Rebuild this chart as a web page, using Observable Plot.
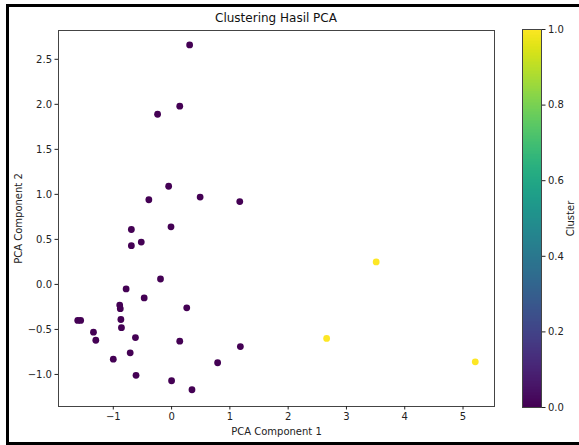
<!DOCTYPE html>
<html>
<head>
<meta charset="utf-8">
<script src="https://cdn.jsdelivr.net/npm/d3@7"></script>
<script src="https://cdn.jsdelivr.net/npm/@observablehq/plot@0.6"></script>
<style>
  html, body { margin: 0; padding: 0; background: #fff; }
  #root { position: relative; width: 579px; height: 445px; overflow: hidden; font-family: "DejaVu Sans", sans-serif; }
  #border { position: absolute; left: 6px; top: 4px; width: 640px; height: 441px; box-sizing: border-box; border: 3px solid #000; }
  #title { position: absolute; left: 176px; width: 200px; top: 11px; text-align: center; font-size: 12px; color: #111; }
  .abs { position: absolute; top: 0; }
</style>
</head>
<body>
<div id="root">
  <div id="border"></div>
  <div id="title">Clustering Hasil PCA</div>
  <div id="main" class="abs" style="left:0"></div>
  <div id="cbar" class="abs" style="left:490px"></div>
</div>
<script>
// PCA component values
const pc1 = [0.31, 0.14, -0.24, -0.05, -0.39, 0.49, 1.17, -0.69, -0.01, -0.69, -0.52,
  -0.19, -0.78, -0.47, -0.89, -0.88, 0.26, -1.61, -1.56, -0.87, -0.86, -1.34, -1.30,
  -0.62, 0.14, 1.18, -0.71, -1.00, 0.79, -0.61, 0.00, 0.35,
  3.51, 2.66, 5.21];
const pc2 = [2.66, 1.98, 1.89, 1.09, 0.94, 0.97, 0.92, 0.61, 0.64, 0.43, 0.47,
  0.06, -0.05, -0.15, -0.23, -0.27, -0.26, -0.40, -0.40, -0.39, -0.48, -0.53, -0.62,
  -0.59, -0.63, -0.69, -0.76, -0.83, -0.87, -1.01, -1.07, -1.17,
  0.25, -0.60, -0.86];
const cluster = [0,0,0,0,0,0,0,0,0,0,0,
  0,0,0,0,0,0,0,0,0,0,0,0,
  0,0,0,0,0,0,0,0,0,
  1,1,1];
const xTicks = [-1, 0, 1, 2, 3, 4, 5];
const yTicks = [-1.0, -0.5, 0.0, 0.5, 1.0, 1.5, 2.0, 2.5];
const cTicks = [0.0, 0.2, 0.4, 0.6, 0.8, 1.0];

const points = pc1.map((x, i) => ({x, y: pc2[i], c: cluster[i]}));

const font = {fontFamily: "DejaVu Sans, sans-serif", fontSize: "10px"};

const main = Plot.plot({
  width: 510,
  height: 445,
  marginLeft: 58,
  marginRight: 16,
  marginTop: 30,
  marginBottom: 39,
  style: {...font, color: "#222", background: "transparent"},
  x: {domain: [-1.94, 5.54]},
  y: {domain: [-1.356, 2.82]},
  color: {type: "linear", scheme: "viridis", domain: [0, 1]},
  marks: [
    Plot.frame({stroke: "#444", strokeWidth: 1}),
    Plot.axisX(xTicks, {tickSize: 3.5, tickPadding: 3, tickFormat: d3.format("d"), label: "PCA Component 1", labelArrow: "none", labelAnchor: "center", labelOffset: 28}),
    Plot.axisY(yTicks, {tickSize: 3.5, tickPadding: 3, tickFormat: d3.format(".1f"), label: "PCA Component 2", labelArrow: "none", labelAnchor: "center", labelOffset: 44}),
    Plot.dot(points, {x: "x", y: "y", fill: "c", r: 3.4, stroke: null})
  ]
});
document.getElementById("main").appendChild(main);

// vertical colorbar
const steps = d3.range(0, 1, 0.004);
const cbar = Plot.plot({
  width: 89,
  height: 445,
  marginLeft: 32,
  marginRight: 38,
  marginTop: 29,
  marginBottom: 38,
  style: {...font, color: "#222", background: "transparent"},
  x: {domain: [0, 1], axis: null},
  y: {domain: [0, 1]},
  color: {type: "linear", scheme: "viridis", domain: [0, 1]},
  marks: [
    Plot.rect(steps, {x1: 0, x2: 1, y1: d => d, y2: d => Math.min(1, d + 0.012), fill: d => d, shapeRendering: "crispEdges"}),
    Plot.frame({stroke: "#444", strokeWidth: 1}),
    Plot.axisY(cTicks, {anchor: "right", tickSize: 3.5, tickPadding: 3, tickFormat: d3.format(".1f"), label: "Cluster", labelArrow: "none", labelAnchor: "center", labelOffset: 32})
  ]
});
document.getElementById("cbar").appendChild(cbar);
</script>
</body>
</html>
